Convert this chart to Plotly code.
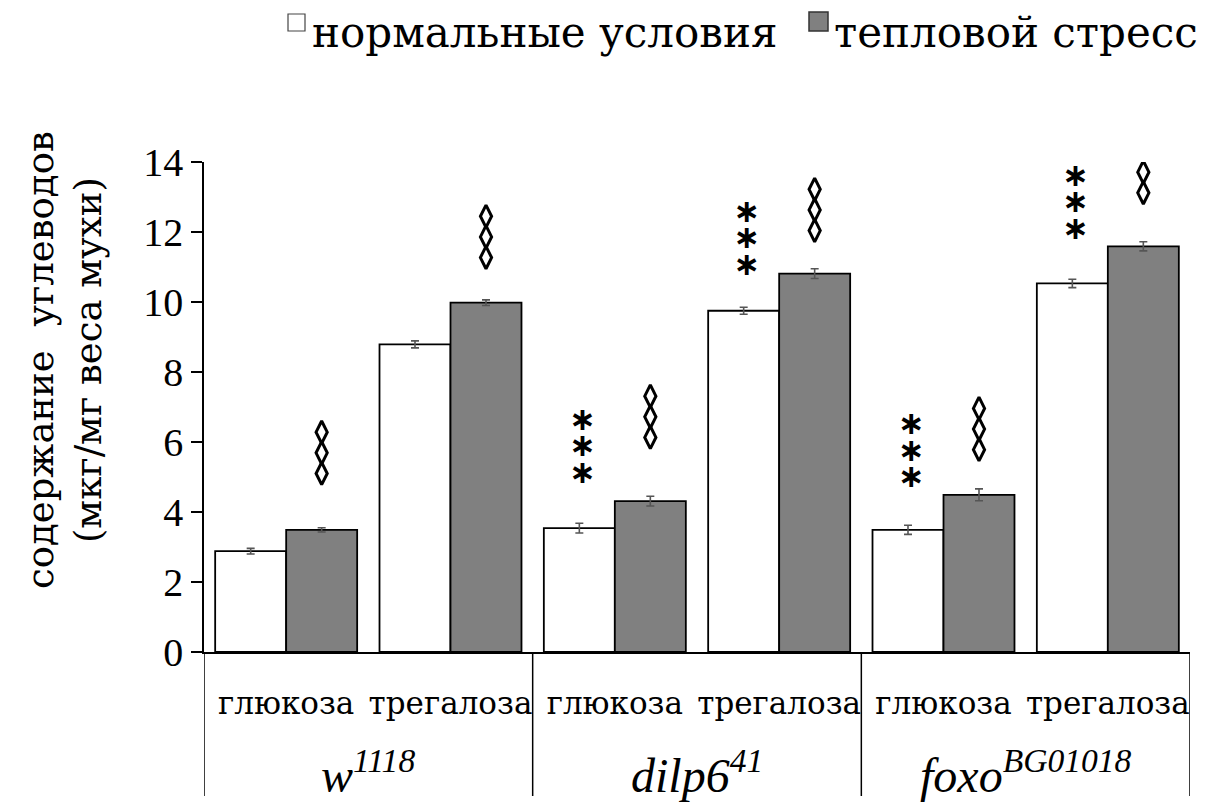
import plotly.graph_objects as go

# Carbohydrate content (µg per mg fly weight), normal vs heat stress
sugars = ["глюкоза", "трегалоза", "глюкоза", "трегалоза", "глюкоза", "трегалоза"]
lines = ["<i>w</i><sup><i>1118</i></sup>",
         "<i>dilp6</i><sup><i>41</i></sup>",
         "<i>foxo</i><sup><i>BG01018</i></sup>"]
normal_vals = [2.88, 8.79, 3.54, 9.75, 3.49, 10.53]
normal_err = [0.08, 0.10, 0.14, 0.10, 0.13, 0.12]
stress_vals = [3.49, 9.98, 4.31, 10.81, 4.49, 11.59]
stress_err = [0.06, 0.08, 0.14, 0.14, 0.17, 0.13]
y_ticks = [0, 2, 4, 6, 8, 10, 12, 14]

# significance marks: *** (vs w1118, normal) and ◊◊◊ (heat stress vs normal)
star_idx = [2, 3, 4, 5]
star_mid = [5.86, 11.80, 5.74, 12.83]
diam_idx = [0, 1, 2, 3, 4, 5]
diam_mid = [5.69, 11.86, 6.72, 12.63, 6.37, 13.71]

SERIF = "Liberation Serif, DejaVu Serif, serif"
CYR = "DejaVu Serif, serif"
x = list(range(len(sugars)))
BAR_OFF = 0.216  # half of a bar slot in category units

fig = go.Figure()
fig.add_trace(go.Bar(
    x=x, y=normal_vals, name="нормальные условия",
    marker=dict(color="white", line=dict(color="black", width=1.8)),
    error_y=dict(type="data", array=normal_err, color="#555555",
                 thickness=1.6, width=4),
))
fig.add_trace(go.Bar(
    x=x, y=stress_vals, name="тепловой стресс",
    marker=dict(color="#808080", line=dict(color="black", width=1.8)),
    error_y=dict(type="data", array=stress_err, color="#555555",
                 thickness=1.6, width=4),
))

STAR_STEP = 0.76
STAR_SHIFT = -0.04  # glyph sits slightly above its anchor
DIAM_STEP = 0.59
sx, sy = [], []
for i, m in zip(star_idx, star_mid):
    for k in (-1, 0, 1):
        sx.append(i - BAR_OFF + 0.02)
        sy.append(m + k * STAR_STEP + STAR_SHIFT)
fig.add_trace(go.Scatter(
    x=sx, y=sy, mode="text", text=["∗"] * len(sx),
    textposition="middle center",
    textfont=dict(family="DejaVu Sans", size=32, color="black", weight="bold"),
    hoverinfo="skip", showlegend=False,
))
dx, dy = [], []
for i, m in zip(diam_idx, diam_mid):
    for k in (-1, 0, 1):
        dx.append(i + BAR_OFF)
        dy.append(m + k * DIAM_STEP)
fig.add_trace(go.Scatter(
    x=dx, y=dy, mode="markers",
    marker=dict(symbol="diamond-tall-open", size=16,
                color="black", line=dict(color="black", width=3)),
    hoverinfo="skip", showlegend=False,
))

# plot area geometry (pixels)
L, R, T, B = 204, 1190, 162, 652
W, H = R - L, B - T


def px(xp):
    return (xp - L) / W


def py(yp):
    return (B - yp) / H


shapes = []
# group separators below the axis
for xs in (-0.5, 1.5, 3.5, 5.5):
    shapes.append(dict(type="line", xref="x", yref="paper",
                       x0=xs, x1=xs, y0=0, y1=py(796),
                       line=dict(color="black", width=1.5)))
# legend swatches
shapes.append(dict(type="rect", xref="paper", yref="paper",
                   x0=px(288), x1=px(305), y0=py(31), y1=py(14),
                   fillcolor="white", line=dict(color="#444444", width=1.2)))
shapes.append(dict(type="rect", xref="paper", yref="paper",
                   x0=px(809), x1=px(828), y0=py(31), y1=py(12),
                   fillcolor="#808080", line=dict(color="#333333", width=1.5)))

annotations = []
for g, lab in enumerate(lines):
    annotations.append(dict(text=lab, x=2 * g + 0.5, xref="x",
                            y=py(772), yref="paper", showarrow=False,
                            xanchor="center", yanchor="middle",
                            font=dict(family=SERIF, size=48, color="black")))
annotations.append(dict(text="нормальные условия", x=px(310), xref="paper",
                        y=py(33), yref="paper", showarrow=False,
                        xanchor="left", yanchor="middle",
                        font=dict(family=CYR, size=42, color="black")))
annotations.append(dict(text="тепловой стресс", x=px(832), xref="paper",
                        y=py(33), yref="paper", showarrow=False,
                        xanchor="left", yanchor="middle",
                        font=dict(family=CYR, size=42, color="black")))
annotations.append(dict(text="содержание\u00a0 углеводов<br>(мкг/мг веса мухи)",
                        x=px(64), xref="paper", y=py(360), yref="paper",
                        textangle=-90, showarrow=False,
                        xanchor="center", yanchor="middle",
                        font=dict(family=CYR, size=37, color="black")))

fig.update_layout(
    width=1210, height=810,
    margin=dict(l=L, r=1210 - R, t=T, b=810 - B, pad=0),
    paper_bgcolor="white", plot_bgcolor="white",
    barmode="group", bargap=0.136, bargroupgap=0,
    showlegend=False,
    shapes=shapes, annotations=annotations,
    font=dict(family=SERIF, color="black"),
    xaxis=dict(range=[-0.5, 5.5], tickvals=x, ticktext=sugars,
               showline=True, linecolor="black", linewidth=2,
               ticks="", showgrid=False, zeroline=False,
               tickangle=0, automargin=False,
               tickfont=dict(family=CYR, size=31, color="black"),
               ticklabelstandoff=23),
    yaxis=dict(range=[0, 14], tickvals=y_ticks,
               showline=True, linecolor="black", linewidth=1.5,
               ticks="outside", ticklen=11, tickwidth=1.5, tickcolor="black",
               showgrid=False, zeroline=False, automargin=False,
               tickfont=dict(family="Liberation Serif", size=40, color="black")),
)

fig.write_html("out.html")
